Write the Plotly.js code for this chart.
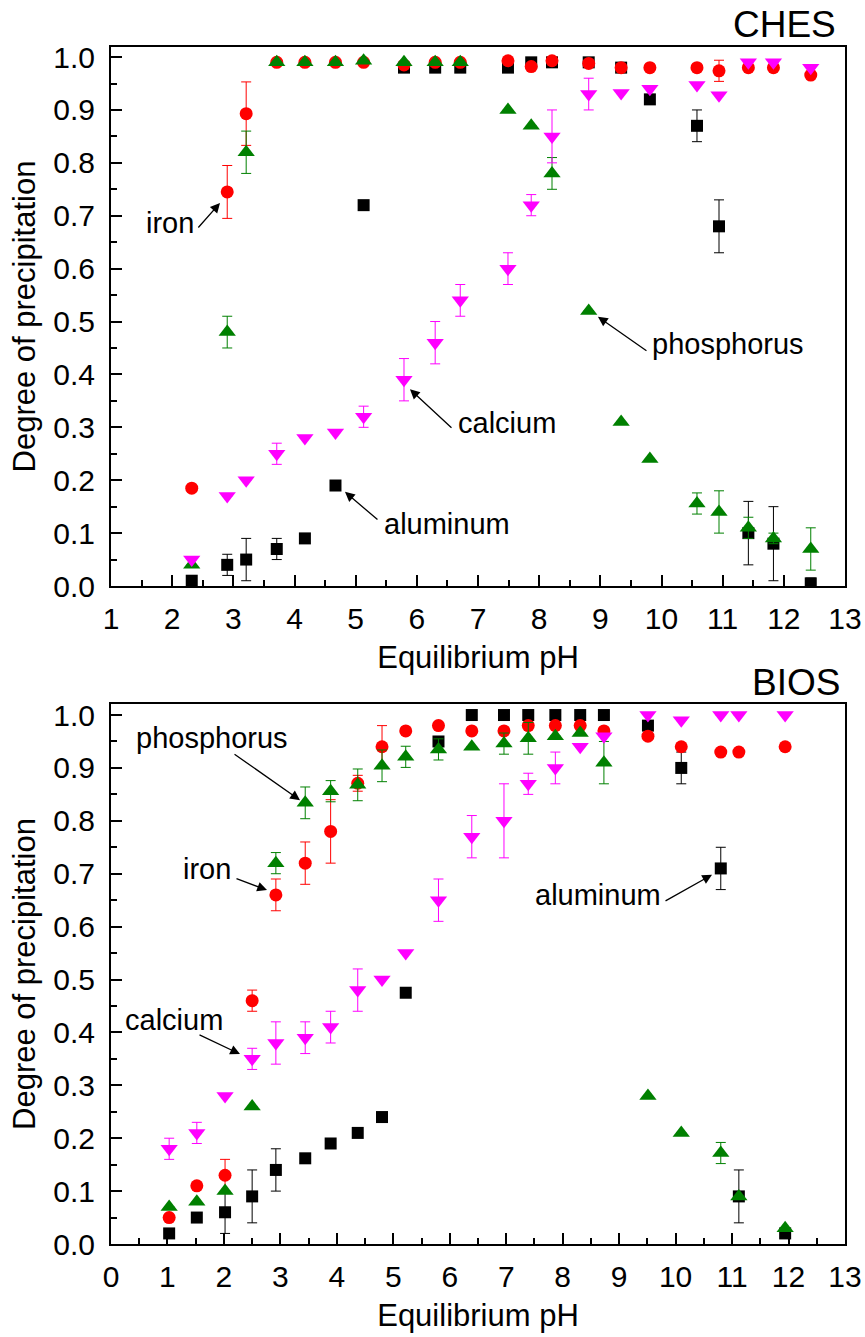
<!DOCTYPE html>
<html>
<head>
<meta charset="utf-8">
<script src="https://cdn.plot.ly/plotly-3.0.1.min.js"></script>
<style>html,body{margin:0;padding:0;background:#fff;}#chart{width:865px;height:1337px;}</style>
</head>
<body>
<div id="chart"></div>
<script>
// ---------- CHES (top panel) ----------
const chesPH = [2.32, 2.90, 3.21, 3.71, 4.17, 4.67, 5.13, 5.79, 6.30, 6.71, 7.49, 7.87, 8.21, 8.81, 9.34, 9.81, 10.58, 10.94, 11.42, 11.83, 12.44];
const chesAluminum    = [0.01, 0.04, 0.05, 0.07, 0.09, 0.19, 0.72, 0.98, 0.98, 0.98, 0.98, 0.99, 0.99, 0.99, 0.98, 0.92, 0.87, 0.68, 0.10, 0.08, 0.005];
const chesAluminumErr = [0, 0.02, 0.04, 0.02, 0, 0, 0, 0, 0, 0, 0, 0, 0, 0, 0, 0, 0.03, 0.05, 0.06, 0.07, 0.01];
const chesIron        = [0.185, 0.745, 0.893, 0.99, 0.99, 0.99, 0.99, 0.985, 0.99, 0.99, 0.993, 0.982, 0.993, 0.988, 0.98, 0.98, 0.98, 0.974, 0.98, 0.98, 0.966];
const chesIronErr     = [0, 0.05, 0.06, 0, 0, 0, 0, 0, 0, 0, 0, 0, 0, 0, 0, 0, 0, 0.02, 0, 0, 0];
const chesPhosphorus    = [0.04, 0.48, 0.82, 0.99, 0.99, 0.99, 0.993, 0.99, 0.99, 0.99, 0.90, 0.87, 0.78, 0.52, 0.31, 0.24, 0.156, 0.14, 0.11, 0.09, 0.07];
const chesPhosphorusErr = [0, 0.03, 0.04, 0, 0, 0, 0, 0, 0, 0, 0, 0, 0.03, 0, 0, 0, 0.02, 0.04, 0.02, 0.01, 0.04];
const chesCalcium     = [0.05, 0.17, 0.20, 0.25, 0.28, 0.29, 0.32, 0.39, 0.46, 0.54, 0.60, 0.72, 0.85, 0.93, 0.932, 0.94, 0.947, 0.928, 0.99, 0.99, 0.98];
const chesCalciumErr  = [0, 0, 0, 0.02, 0, 0, 0.02, 0.04, 0.04, 0.03, 0.03, 0.02, 0.05, 0.03, 0, 0, 0, 0, 0, 0, 0];

// ---------- BIOS (bottom panel) ----------
const biosPH = [1.03, 1.52, 2.02, 2.50, 2.92, 3.44, 3.89, 4.37, 4.80, 5.22, 5.80, 6.39, 6.96, 7.39, 7.87, 8.31, 8.73, 9.51, 10.10, 10.80, 11.12, 11.94];
const biosAluminum    = [0.02, 0.05, 0.06, 0.09, 0.14, 0.162, 0.19, 0.21, 0.24, 0.475, 0.95, 1.0, 1.0, 1.0, 1.0, 1.0, 1.0, 0.98, 0.90, 0.71, 0.09, 0.02];
const biosAluminumErr = [0, 0, 0.04, 0.05, 0.04, 0, 0, 0, 0, 0, 0, 0, 0, 0, 0, 0, 0, 0, 0.03, 0.04, 0.05, 0];
const biosIron        = [0.05, 0.11, 0.13, 0.46, 0.66, 0.72, 0.78, 0.871, 0.94, 0.97, 0.98, 0.97, 0.97, 0.98, 0.98, 0.98, 0.97, 0.96, 0.94, 0.93, 0.93, 0.94];
const biosIronErr     = [0, 0, 0.03, 0.02, 0.03, 0.04, 0.06, 0.015, 0.04, 0, 0, 0, 0, 0, 0, 0, 0, 0, 0, 0, 0, 0];
const biosPhosphorus    = [0.07, 0.08, 0.10, 0.26, 0.72, 0.834, 0.856, 0.868, 0.904, 0.921, 0.935, 0.94, 0.946, 0.956, 0.96, 0.966, 0.91, 0.28, 0.21, 0.172, 0.09, 0.03];
const biosPhosphorusErr = [0, 0, 0, 0, 0.02, 0.03, 0.02, 0.03, 0.03, 0.02, 0.02, 0, 0.02, 0.03, 0, 0, 0.04, 0, 0, 0.02, 0, 0];
const biosCalcium     = [0.18, 0.21, 0.28, 0.35, 0.38, 0.39, 0.41, 0.48, 0.50, 0.55, 0.65, 0.77, 0.80, 0.87, 0.90, 0.94, 0.96, 1.0, 0.99, 1.0, 1.0, 1.0];
const biosCalciumErr  = [0.02, 0.02, 0, 0.02, 0.04, 0.03, 0.03, 0.04, 0, 0, 0.04, 0.04, 0.07, 0.02, 0.03, 0, 0, 0, 0, 0, 0, 0];

const FONT = 'Liberation Sans, Arial, Helvetica, sans-serif';
const COL = {al: '#000000', fe: '#ff0000', p: '#008000', ca: '#ff00ff'};

function series(x, y, err, color, symbol, size, xa, ya, name) {
  return {
    type: 'scatter', mode: 'markers', name: name, x: x, y: y,
    xaxis: xa, yaxis: ya,
    marker: {symbol: symbol, size: size, color: color, line: {width: 0}},
    error_y: {type: 'data', array: err, visible: true, color: color, thickness: 1, width: 5},
    hoverinfo: 'x+y+name'
  };
}

const traces = [
  series(chesPH, chesAluminum, chesAluminumErr, COL.al, 'square', 12, 'x', 'y', 'aluminum'),
  series(chesPH, chesIron, chesIronErr, COL.fe, 'circle', 13, 'x', 'y', 'iron'),
  series(chesPH, chesPhosphorus, chesPhosphorusErr, COL.p, 'triangle-up', 15, 'x', 'y', 'phosphorus'),
  series(chesPH, chesCalcium, chesCalciumErr, COL.ca, 'triangle-down', 15, 'x', 'y', 'calcium'),
  series(biosPH, biosAluminum, biosAluminumErr, COL.al, 'square', 12, 'x2', 'y2', 'aluminum'),
  series(biosPH, biosIron, biosIronErr, COL.fe, 'circle', 13, 'x2', 'y2', 'iron'),
  series(biosPH, biosPhosphorus, biosPhosphorusErr, COL.p, 'triangle-up', 15, 'x2', 'y2', 'phosphorus'),
  series(biosPH, biosCalcium, biosCalciumErr, COL.ca, 'triangle-down', 15, 'x2', 'y2', 'calcium')
];

function xAxis(range, anchor) {
  return {
    anchor: anchor, range: range, dtick: 1, tick0: 0,
    ticks: 'inside', ticklen: 11, tickwidth: 2, tickcolor: '#000',
    minor: {ticks: 'inside', ticklen: 6, tickwidth: 2, tickcolor: '#000', dtick: 0.5},
    showline: true, linewidth: 2, linecolor: '#000', mirror: true,
    showgrid: false, zeroline: false, automargin: false,
    tickfont: {family: FONT, size: 30, color: '#000'},
    ticklabelstandoff: 5,
    title: {text: 'Equilibrium pH', font: {family: FONT, size: 31, color: '#000'}, standoff: 12}
  };
}
function yAxis(domain, range, anchor) {
  return {
    anchor: anchor, domain: domain, range: range, dtick: 0.1, tick0: 0, tickformat: '.1f',
    ticks: 'inside', ticklen: 11, tickwidth: 2, tickcolor: '#000',
    minor: {ticks: 'inside', ticklen: 6, tickwidth: 2, tickcolor: '#000', dtick: 0.05},
    showline: true, linewidth: 2, linecolor: '#000', mirror: true,
    showgrid: false, zeroline: false, automargin: false,
    tickfont: {family: FONT, size: 30, color: '#000'},
    ticklabelstandoff: 8,
    title: {text: 'Degree of precipitation', font: {family: FONT, size: 31, color: '#000'}, standoff: 8}
  };
}

function arrow(xref, yref, x, y, ax, ay) {
  return {xref: xref, yref: yref, x: x, y: y, ax: ax, ay: ay, text: '', showarrow: true,
          arrowhead: 2, arrowsize: 1.5, arrowwidth: 1.3, arrowcolor: '#000'};
}
function label(xref, yref, x, y, text) {
  return {xref: xref, yref: yref, x: x, y: y, text: text, showarrow: false,
          xanchor: 'center', yanchor: 'middle', font: {family: FONT, size: 29, color: '#000'}};
}

const annotations = [
  // CHES
  arrow('x', 'y', 2.782, 0.724, -23, 26), label('x', 'y', 1.965, 0.686, 'iron'),
  arrow('x', 'y', 5.888, 0.372, 43, 40), label('x', 'y', 7.466, 0.308, 'calcium'),
  arrow('x', 'y', 4.825, 0.178, 34, 29), label('x', 'y', 6.493, 0.117, 'aluminum'),
  arrow('x', 'y', 8.961, 0.509, 50, 35), label('x', 'y', 11.087, 0.457, 'phosphorus'),
  // BIOS
  arrow('x2', 'y2', 3.348, 0.839, -67, -47), label('x2', 'y2', 1.780, 0.957, 'phosphorus'),
  arrow('x2', 'y2', 2.763, 0.669, -32, -12), label('x2', 'y2', 1.709, 0.709, 'iron'),
  arrow('x2', 'y2', 10.645, 0.698, -48, 27), label('x2', 'y2', 8.634, 0.660, 'aluminum'),
  arrow('x2', 'y2', 2.285, 0.359, -42, -20), label('x2', 'y2', 1.116, 0.423, 'calcium'),
  // panel titles
  {xref: 'paper', yref: 'paper', x: 0.9905, y: 1.0184, text: 'CHES', showarrow: false,
   xanchor: 'right', yanchor: 'middle', font: {family: FONT, size: 37, color: '#000'}},
  {xref: 'paper', yref: 'paper', x: 0.9959, y: 0.4695, text: 'BIOS', showarrow: false,
   xanchor: 'right', yanchor: 'middle', font: {family: FONT, size: 37, color: '#000'}}
];

const layout = {
  width: 865, height: 1337,
  margin: {l: 111, r: 20, t: 47, b: 93},
  paper_bgcolor: '#fff', plot_bgcolor: '#fff',
  showlegend: false,
  font: {family: FONT, color: '#000'},
  xaxis: xAxis([1, 13], 'y'),
  yaxis: yAxis([0.5497, 1], [0, 1.019], 'x'),
  xaxis2: xAxis([0, 13], 'y2'),
  yaxis2: yAxis([0, 0.4511], [0, 1.0208], 'x2'),
  annotations: annotations
};

Plotly.newPlot('chart', traces, layout, {displayModeBar: false, staticPlot: true});
</script>
</body>
</html>
